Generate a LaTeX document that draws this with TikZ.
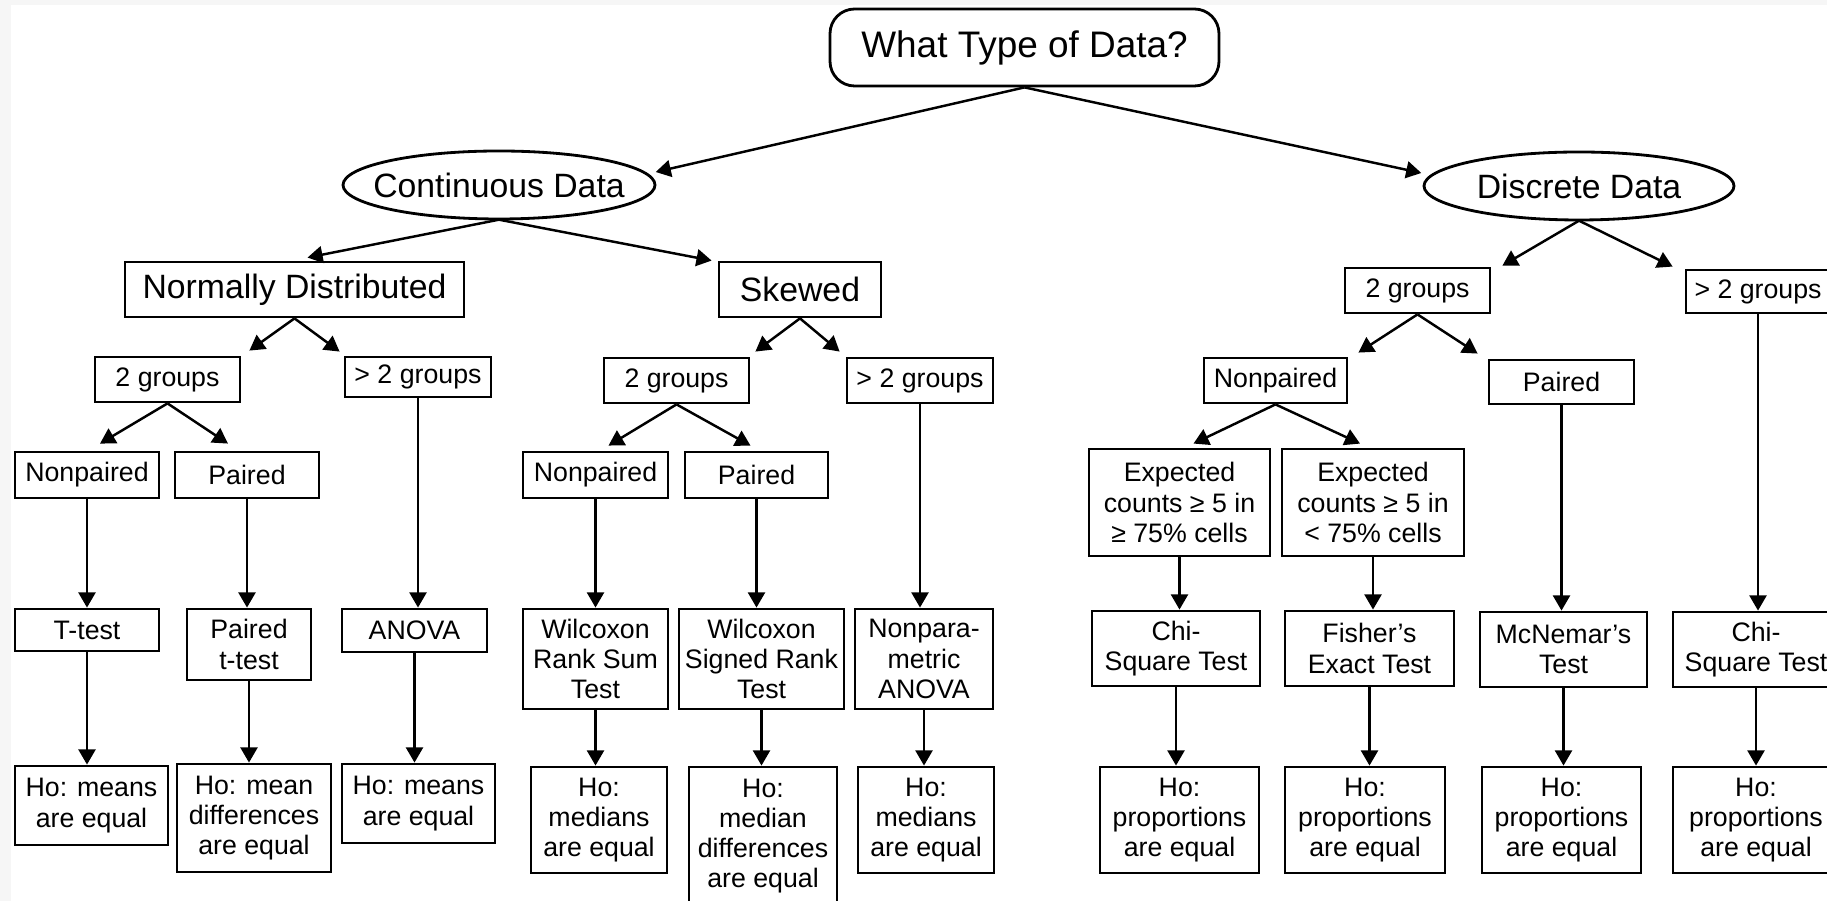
\documentclass[tikz,border=0pt]{standalone}
\usepackage{fontspec}
\setmainfont{Liberation Sans}
\usetikzlibrary{arrows.meta,shapes}
\newcommand{\bigf}{\fontsize{9.6}{11}\selectfont}
\newcommand{\smallf}{\fontsize{7.6}{8.6}\selectfont}

\begin{document}
\begin{tikzpicture}[x=0.01cm,y=-0.01cm,
        wh/.style 2 args={minimum width=#1*0.01cm, minimum height=#2*0.01cm},
        box/.style={draw, line width=0.8pt, inner sep=0pt, align=center, font=\smallf},
        bigbox/.style={box, font=\bigf},
        oval/.style={inner sep=0pt, font=\bigf},
        arr/.style={line width=0.7pt, -{Triangle[length=4.3pt,width=4.8pt]}}]
        %\draw[help lines] (0,0) grid (1827,901);
        \useasboundingbox (0,0) rectangle (1827,901);
        \fill[gray!7] (0,0) rectangle (1827,901);
        \fill[white] (11,5) rectangle (1827,901);

        \node[box, font=\fontsize{10.5}{12}\selectfont, rounded corners=7pt, wh={389}{77}] (root) at (1024.5,47.5) {What Type of Data?};
        \node[oval, wh={312}{68}] (cont) at (499,185) {Continuous Data};
        \node[oval, wh={310}{68}] (disc) at (1579,186) {Discrete Data};
        \draw[line width=0.8pt] (cont.center) ellipse [x radius=156, y radius=34];
        \draw[line width=0.8pt] (disc.center) ellipse [x radius=155, y radius=34];

        \node[bigbox, wh={339}{55}] (nd) at (294.5,289.5) {Normally Distributed};
        \node[bigbox, wh={162}{55}] (sk) at (800,289.5) {Skewed};
        \node[box, wh={145}{45}] (dtwo) at (1417.5,290.5) {2 groups};
        \node[box, wh={144}{43}] (dmore) at (1758,291.5) {> 2 groups};

        \node[box, wh={145}{45}] (ntwo) at (167.5,379.5) {2 groups};
        \node[box, wh={146}{40}] (nmore) at (418,377) {> 2 groups};
        \node[box, wh={145}{45}] (stwo) at (676.5,380.5) {2 groups};
        \node[box, wh={146}{45}] (smore) at (920,380.5) {> 2 groups};
        \node[box, wh={143}{45}] (dnp) at (1275.5,380.5) {Nonpaired};
        \node[box, wh={145}{44}] (dp) at (1561.5,382) {Paired};

        \node[box, wh={144}{46}] (nnp) at (87,475) {Nonpaired};
        \node[box, wh={144}{46}] (np) at (247,475) {Paired};
        \node[box, wh={145}{46}] (snp) at (595.5,475) {Nonpaired};
        \node[box, wh={143}{46}] (sp) at (756.5,475) {Paired};
        \node[box, wh={181}{107}] (dexa) at (1179.5,502.5) {Expected\\counts ≥ 5 in\\≥ 75\% cells};
        \node[box, wh={182}{107}] (dexb) at (1373,502.5) {Expected\\counts ≥ 5 in\\< 75\% cells};

        \node[box, wh={144}{42}] (ttest) at (87,630) {T-test};
        \node[box, wh={124}{71}] (pttest) at (249,644.5) {Paired\\t-test};
        \node[box, wh={145}{43}] (anova) at (414.5,630.5) {ANOVA};
        \node[box, wh={145}{100}] (wrs) at (595.5,659) {Wilcoxon\\Rank Sum\\Test};
        \node[box, wh={165}{100}] (wsr) at (761.5,659) {Wilcoxon\\Signed Rank\\Test};
        \node[box, wh={138}{100}] (npanova) at (924,659) {Nonpara-\\metric\\ANOVA};
        \node[box, wh={168}{75}] (chia) at (1176,648.5) {Chi-\\Square Test};
        \node[box, wh={169}{75}] (fish) at (1369.5,648.5) {Fisher's\\Exact Test};
        \node[box, wh={167}{75}] (mcn) at (1563.5,649.5) {McNemar's\\Test};
        \node[box, wh={166}{75}] (chib) at (1756,649.5) {Chi-\\Square Test};

        \node[box, wh={153}{79}] (hna) at (91.5,805.5) {Ho: means\\are equal};
        \node[box, wh={154}{108}] (hnb) at (254,818) {Ho: mean\\differences\\are equal};
        \node[box, wh={153}{79}] (hnc) at (418.5,803.5) {Ho: means\\are equal};
        \node[box, wh={136}{106}] (hsa) at (599,820) {Ho:\\medians\\are equal};
        \node[box, wh={148}{138}] (hsb) at (763,836) {Ho:\\median\\differences\\are equal};
        \node[box, wh={136}{106}] (hsc) at (926,820) {Ho:\\medians\\are equal};
        \node[box, wh={159}{106}] (hpa) at (1179.5,820) {Ho:\\proportions\\are equal};
        \node[box, wh={160}{106}] (hpb) at (1365,820) {Ho:\\proportions\\are equal};
        \node[box, wh={159}{106}] (hpc) at (1561.5,820) {Ho:\\proportions\\are equal};
        \node[box, wh={166}{106}] (hpd) at (1756,820) {Ho:\\proportions\\are equal};

        \foreach \p/\c/\anc/\dx/\dy in {root/cont/east/0/-13, root/disc/west/-2/-13,
                cont/nd/north/13/-3, cont/sk/north west/-6/0,
                nd/ntwo/north east/8/-5, nd/nmore/north west/-4/-4,
                ntwo/nnp/north/13/-7, ntwo/np/north/-19/-7,
                sk/stwo/north east/5/-5, sk/smore/north west/-6/-5,
                stwo/snp/north/13/-5, stwo/sp/north/-6/-5,
                disc/dtwo/north east/11/-1, disc/dmore/north west/-12/-2,
                dtwo/dnp/north east/10/-4, dtwo/dp/north west/-10/-5,
                dnp/dexa/north/14/-4, dnp/dexb/north/-13/-4}
            \draw[arr] (\p.south) -- ([shift={(\dx,\dy)}]\c.\anc);

        \foreach \a/\b in {nnp/ttest, ttest/hna, np/pttest, pttest/hnb, nmore/anova, anova/hnc,
                snp/wrs, wrs/hsa, sp/wsr, wsr/hsb, smore/npanova, npanova/hsc,
                dexa/chia, chia/hpa, dexb/fish, fish/hpb, dp/mcn, mcn/hpc, dmore/chib, chib/hpd}
            \draw[arr] (\a.south) -- (\a.south |- \b.north);
\end{tikzpicture}
\end{document}
